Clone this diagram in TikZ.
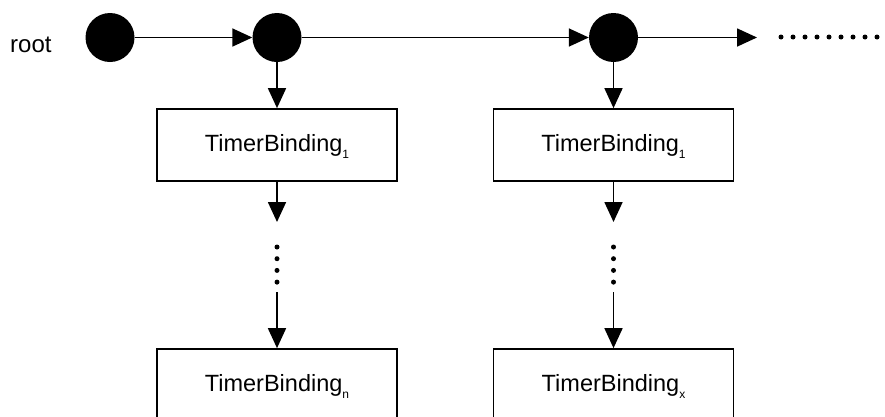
\documentclass[tikz,border=0pt]{standalone}
\usepackage{fontspec}
\setmainfont{Liberation Sans}
\usetikzlibrary{arrows.meta}
\tikzset{
  dot/.style={circle,fill=black,inner sep=0pt,minimum size=49pt},
  tb/.style={draw,line width=1.7pt,minimum width=240pt,minimum height=72pt,inner sep=0pt,text height=17pt,text depth=5pt,font=\fontsize{23.5}{27}\selectfont},
  conn/.style={line width=1.7pt,-{Triangle[length=20pt,width=18pt]}},
  sdot/.style={circle,fill=black,inner sep=0pt,minimum size=5pt},
}
\newcommand{\sbx}[1]{\raisebox{-7pt}{\fontsize{12}{12}\selectfont #1}}
\begin{document}
\begin{tikzpicture}[x=1pt,y=-1pt]
\useasboundingbox (0,0) rectangle (885,416);
\clip (0,0) rectangle (885,416);
\node[anchor=base west,font=\fontsize{24}{27}\selectfont,inner sep=0pt] (root) at (10,52) {root};
\node[dot] (c0) at (110,37.5) {};
\node[dot] (c1) at (277,37.5) {};
\node[dot] (c2) at (613.5,37.5) {};
\coordinate (e) at (757,37.5);
\draw[conn] (c0) -- (c1);
\draw[conn] (c1) -- (c2);
\draw[conn] (c2) -- (e);
\foreach \i in {0,...,8} {\node[sdot] (h\i) at (781+12*\i,37) {};}
\node[tb] (a1) at (277,145) {TimerBinding\sbx{1}};
\node[tb] (b1) at (613.5,145) {TimerBinding\sbx{1}};
\node[tb] (a2) at (277,385) {TimerBinding\sbx{n}};
\node[tb] (b2) at (613.5,385) {TimerBinding\sbx{x}};
\draw[conn] (c1) -- (a1);
\draw[conn] (c2) -- (b1);
\coordinate (a1e) at (277,222);
\coordinate (a2s) at (277,292);
\coordinate (b1e) at (613.5,222);
\coordinate (b2s) at (613.5,292);
\draw[conn] (a1) -- (a1e);
\draw[conn] (b1) -- (b1e);
\draw[conn] (a2s) -- (a2);
\draw[conn] (b2s) -- (b2);
\foreach \j in {0,...,3} {
  \node[sdot] (va\j) at (277,247+11.7*\j) {};
  \node[sdot] (vb\j) at (613.5,247+11.7*\j) {};
}
\end{tikzpicture}
\end{document}
